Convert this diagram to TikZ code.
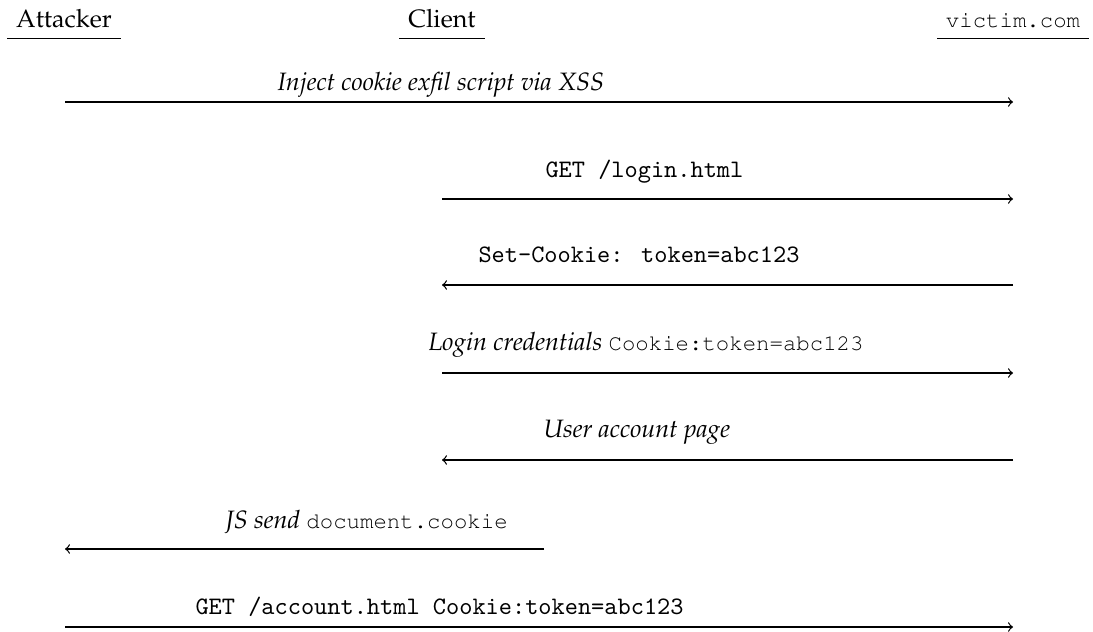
\documentclass[tikz,border=0pt]{standalone}
\usepackage[T1]{fontenc}
\usepackage{mathpazo}
\newcommand{\courtt}[1]{{\fontfamily{pcr}\fontsize{8.9pt}{10pt}\selectfont #1}}
\newcommand{\lmmono}[1]{{\fontencoding{TU}\fontfamily{lmtt}\selectfont #1}}
\tikzset{
  party/.style={anchor=base, inner sep=3.33pt, text depth=0.6pt},
  msg/.style={->, line width=0.5pt},
  msglabel/.style={anchor=base west, inner sep=0pt}
}
\begin{document}
\begin{tikzpicture}[x=0.398pt, y=-0.398pt]
\useasboundingbox (0,0) rectangle (1093,632);
% parties
\node[party] (att) at (64,28) {Attacker};
\node[party] (cli) at (442,28) {Client};
\node[party] (vic) at (1013,28) {\courtt{victim.com}};
\foreach \n in {att,cli,vic} \draw[line width=0.5pt] (\n.south west) -- (\n.south east);
% endpoints
\coordinate (a1) at (65,102);   \coordinate (v1) at (1013,102);
\coordinate (c2) at (442,199);  \coordinate (v2) at (1013,199);
\coordinate (v3) at (1013,285); \coordinate (c3) at (442,285);
\coordinate (c4) at (442,373);  \coordinate (v4) at (1013,373);
\coordinate (v5) at (1013,460); \coordinate (c5) at (442,460);
\coordinate (c6) at (544,549);  \coordinate (a6) at (65,549);
\coordinate (a7) at (65,627);   \coordinate (v7) at (1013,627);
% messages
\draw[msg] (a1) -- (v1);
\draw[msg] (c2) -- (v2);
\draw[msg] (v3) -- (c3);
\draw[msg] (c4) -- (v4);
\draw[msg] (v5) -- (c5);
\draw[msg] (c6) -- (a6);
\draw[msg] (a7) -- (v7);
% labels
\node[msglabel] (l1) at (277,91) {\itshape Inject cookie exfil script via XSS};
\node[msglabel] (l2) at (545,178) {\lmmono{GET /login.html}};
\node[msglabel] (l3) at (478,263) {\lmmono{Set-Cookie: token=abc123}};
\node[msglabel] (l4) at (428,350) {\textit{Login credentials} \courtt{Cookie:token=abc123}};
\node[msglabel] (l5) at (543,437) {\itshape User account page};
\node[msglabel] (l6) at (225,528) {\textit{JS send} \courtt{document.cookie}};
\node[msglabel] (l7) at (195,614) {\lmmono{GET /account.html Cookie:token=abc123}};
\end{tikzpicture}
\end{document}
